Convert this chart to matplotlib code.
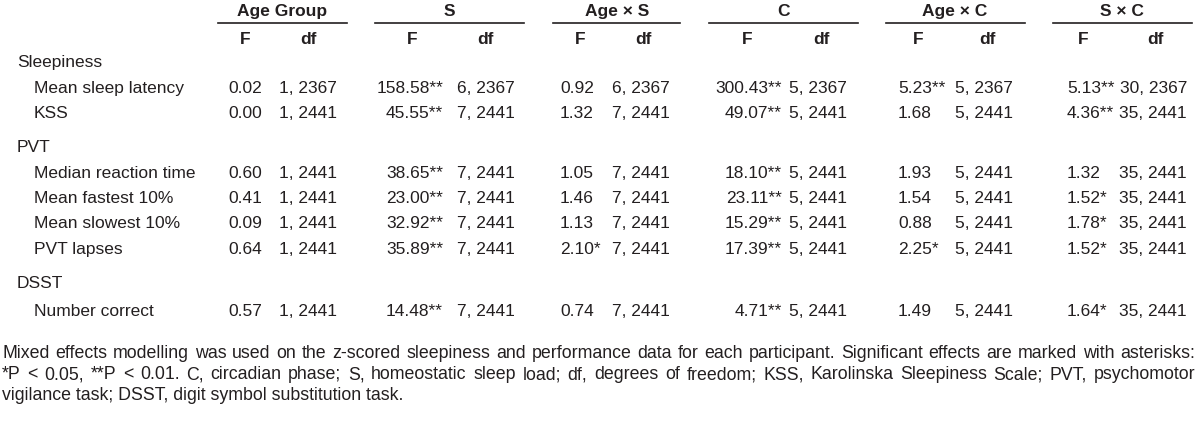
import matplotlib
matplotlib.use('Agg')
import matplotlib.pyplot as plt
from matplotlib import font_manager

names = set(f.name for f in font_manager.fontManager.ttflist)
fam = 'Liberation Sans Narrow' if 'Liberation Sans Narrow' in names else 'Liberation Sans'
plt.rcParams['font.family'] = [fam, 'DejaVu Sans']

# table contents
effects = ['Age Group', 'S', 'Age × S', 'C', 'Age × C', 'S × C']
groups = ['Sleepiness', 'PVT', 'DSST']
group_sizes = [2, 4, 1]
measures = ['Mean sleep latency', 'KSS', 'Median reaction time', 'Mean fastest 10%',
            'Mean slowest 10%', 'PVT lapses', 'Number correct']

f_age = [0.02, 0.00, 0.60, 0.41, 0.09, 0.64, 0.57]
f_s = [158.58, 45.55, 38.65, 23.00, 32.92, 35.89, 14.48]
f_age_s = [0.92, 1.32, 1.05, 1.46, 1.13, 2.10, 0.74]
f_c = [300.43, 49.07, 18.10, 23.11, 15.29, 17.39, 4.71]
f_age_c = [5.23, 1.68, 1.93, 1.54, 0.88, 2.25, 1.49]
f_s_c = [5.13, 4.36, 1.32, 1.52, 1.78, 1.52, 1.64]

sig_age = ['', '', '', '', '', '', '']
sig_s = ['**', '**', '**', '**', '**', '**', '**']
sig_age_s = ['', '', '', '', '', '*', '']
sig_c = ['**', '**', '**', '**', '**', '**', '**']
sig_age_c = ['**', '', '', '', '', '*', '']
sig_s_c = ['**', '**', '', '*', '*', '*', '*']

df_age = ['1, 2367', '1, 2441', '1, 2441', '1, 2441', '1, 2441', '1, 2441', '1, 2441']
df_s = ['6, 2367', '7, 2441', '7, 2441', '7, 2441', '7, 2441', '7, 2441', '7, 2441']
df_age_s = ['6, 2367', '7, 2441', '7, 2441', '7, 2441', '7, 2441', '7, 2441', '7, 2441']
df_c = ['5, 2367', '5, 2441', '5, 2441', '5, 2441', '5, 2441', '5, 2441', '5, 2441']
df_age_c = ['5, 2367', '5, 2441', '5, 2441', '5, 2441', '5, 2441', '5, 2441', '5, 2441']
df_s_c = ['30, 2367', '35, 2441', '35, 2441', '35, 2441', '35, 2441', '35, 2441', '35, 2441']

footnote = [
    'Mixed effects modelling was used on the z-scored sleepiness and performance data for each participant. Significant effects are marked with asterisks:',
    '*P < 0.05, **P < 0.01. C, circadian phase; S, homeostatic sleep load; df, degrees of freedom; KSS, Karolinska Sleepiness Scale; PVT, psychomotor',
    'vigilance task; DSST, digit symbol substitution task.',
]

f_cols = [f_age, f_s, f_age_s, f_c, f_age_c, f_s_c]
sig_cols = [sig_age, sig_s, sig_age_s, sig_c, sig_age_c, sig_s_c]
df_cols = [df_age, df_s, df_age_s, df_c, df_age_c, df_s_c]

# layout (pixels)
head_x = [282, 449, 617, 783, 955, 1122]
line_x = [(218, 347), (375, 524), (553, 680), (709, 858), (886, 1025), (1053, 1192)]
fhead_x = [245, 412, 580, 747, 918, 1083]
dfhead_x = [308, 485, 643, 821, 987, 1155]
f_x = [228, 443, 560, 782, 898, 1067]
f_ha = ['left', 'right', 'left', 'right', 'left', 'left']
df_x = [337, 515, 670, 847, 1013, 1187]
group_y = [61, 146, 282]
row_y = [87, 112, 172, 197, 222, 248, 310]
foot_y = [352, 373, 394]

col = '#231f20'
fs = 12.5
fs_foot = 12.8
off = 6

fig = plt.figure(figsize=(12, 4.22), dpi=100)
ax = fig.add_axes([0, 0, 1, 1])
ax.set_xlim(0, 1200)
ax.set_ylim(422, 0)
ax.axis('off')

for i, name in enumerate(effects):
    ax.text(head_x[i], 10 + off, name, ha='center', va='baseline', fontsize=fs,
            fontweight='bold', color=col)
    ax.plot(line_x[i], [23, 23], color=col, lw=1.2)
    ax.text(fhead_x[i], 38 + off, 'F', ha='center', va='baseline', fontsize=fs,
            fontweight='bold', color=col)
    ax.text(dfhead_x[i], 38 + off, 'df', ha='center', va='baseline', fontsize=fs,
            fontweight='bold', color=col)

for g, y in zip(groups, group_y):
    ax.text(17, y + off, g, ha='left', va='baseline', fontsize=fs, color=col)

for r, (m, y) in enumerate(zip(measures, row_y)):
    ax.text(34, y + off, m, ha='left', va='baseline', fontsize=fs, color=col)
    for c in range(len(effects)):
        ax.text(f_x[c], y + off, f'{f_cols[c][r]:.2f}{sig_cols[c][r]}',
                ha=f_ha[c], va='baseline', fontsize=fs, color=col)
        ax.text(df_x[c], y + off, df_cols[c][r], ha='right', va='baseline',
                fontsize=fs, color=col)

# footnote, first two lines justified between x0 and x1
renderer = fig.canvas.get_renderer()
x0, x1 = 2, 1195
for k, (line, y) in enumerate(zip(footnote, foot_y)):
    if k == len(footnote) - 1:
        ax.text(x0, y + off, line, ha='left', va='baseline', fontsize=fs_foot, color=col)
        continue
    words = line.split(' ')
    texts = [ax.text(0, y + off, w, ha='left', va='baseline', fontsize=fs_foot, color=col)
             for w in words]
    widths = [t.get_window_extent(renderer).width for t in texts]
    gap = (x1 - x0 - sum(widths)) / (len(words) - 1)
    x = x0
    for t, w in zip(texts, widths):
        t.set_x(x)
        x += w + gap

fig.savefig('out.png', dpi=100)
